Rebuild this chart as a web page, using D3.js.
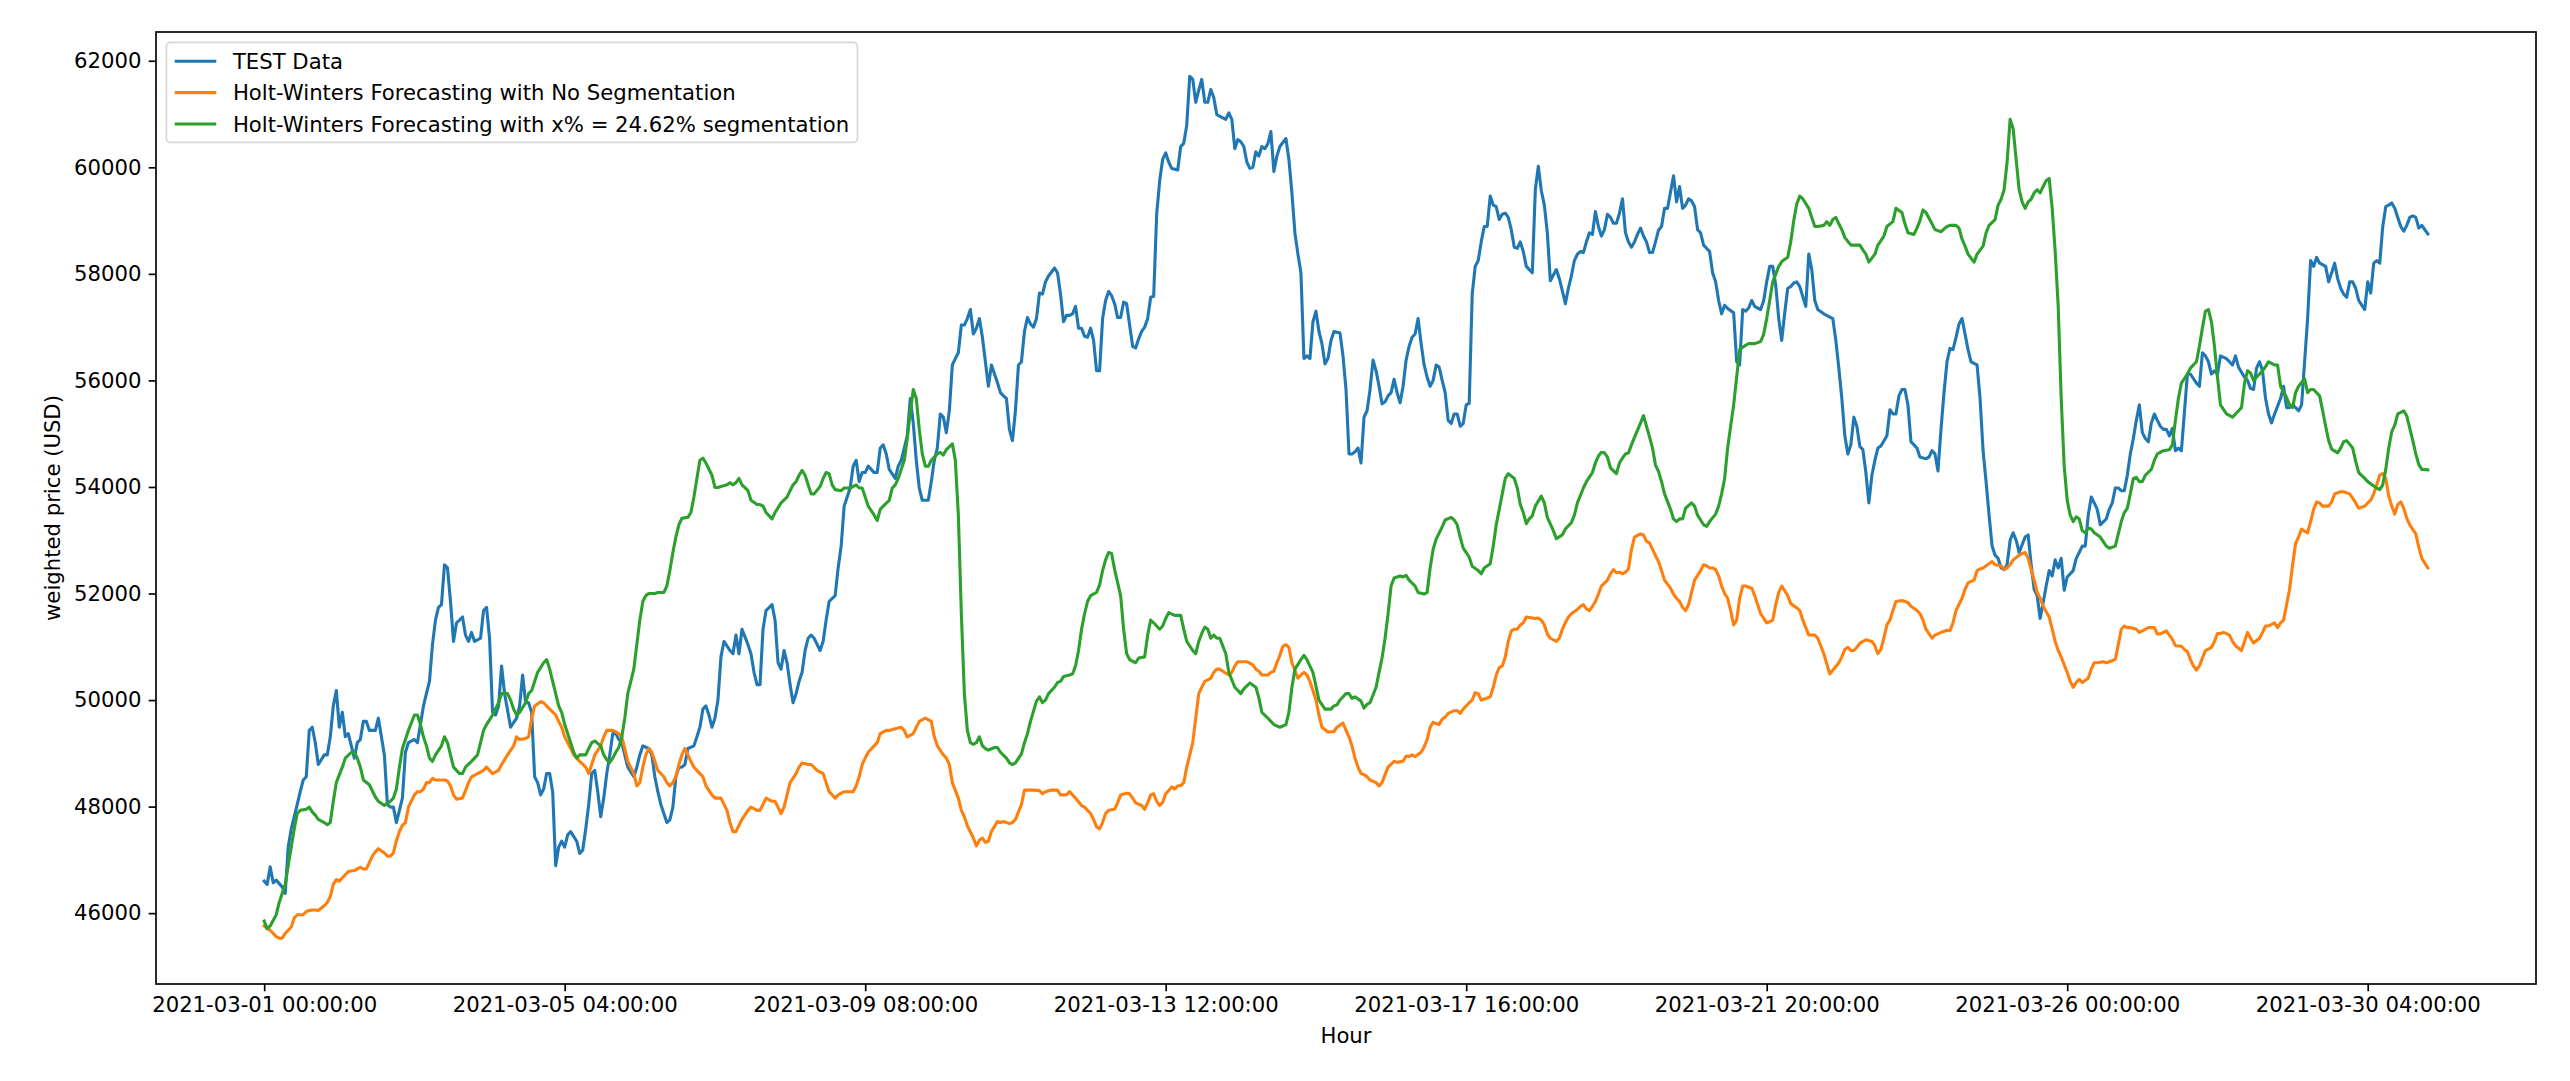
<!DOCTYPE html>
<html><head><meta charset="utf-8">
<script src="https://cdn.jsdelivr.net/npm/d3@7"></script>
<style>html,body{margin:0;padding:0;background:#fff;} svg{display:block;}</style>
</head><body>
<svg id="chart" width="2570" height="1081"></svg>
<script>
const seriesNames = ["TEST Data", "Holt-Winters Forecasting with No Segmentation", "Holt-Winters Forecasting with x% = 24.62% segmentation"];
const seriesColors = ["#1f77b4", "#ff7f0e", "#2ca02c"];
const xTickHours = [0, 100, 200, 300, 400, 500, 600, 700];
const xTickLabels = ["2021-03-01 00:00:00", "2021-03-05 04:00:00", "2021-03-09 08:00:00", "2021-03-13 12:00:00", "2021-03-17 16:00:00", "2021-03-21 20:00:00", "2021-03-26 00:00:00", "2021-03-30 04:00:00"];
const yTicks = [46000, 48000, 50000, 52000, 54000, 56000, 58000, 60000, 62000];
const xLabel = "Hour";
const yLabel = "weighted price (USD)";

// [hour index, weighted price]
const testData = [[0,46600],[1,46540],[2,46870],[3,46570],[4,46620],[6,46490],[7,46370],[8,47240],[9,47580],[11,48040],[12,48280],[13,48500],[14,48560],[15,49430],[16,49490],[17,49200],[18,48790],[20,48970],[21,48970],[22,49310],[23,49890],[24,50180],[25,49490],[26,49770],[27,49310],[28,49370],[30,48910],[31,49200],[32,49260],[33,49600],[34,49600],[35,49430],[37,49430],[38,49660],[40,48970],[41,48040],[42,47990],[43,47990],[44,47700],[45,47930],[46,48160],[47,49020],[48,49200],[50,49260],[51,49200],[52,49540],[53,49890],[55,50350],[56,51040],[57,51500],[58,51740],[59,51790],[60,52540],[61,52480],[62,51850],[63,51100],[64,51450],[65,51500],[66,51560],[67,51220],[68,51100],[69,51270],[70,51100],[72,51160],[73,51680],[74,51740],[75,51160],[76,49770],[77,49720],[78,49890],[79,50640],[80,50120],[82,49490],[84,49660],[85,49890],[86,50470],[87,49950],[88,49950],[89,49770],[90,48560],[91,48450],[92,48220],[93,48330],[94,48620],[95,48620],[96,48280],[97,46890],[98,47240],[99,47350],[100,47240],[101,47470],[102,47530],[104,47350],[105,47120],[106,47180],[107,47580],[108,48040],[109,48620],[110,48680],[111,48280],[112,47810],[113,48160],[114,48620],[115,48970],[116,49370],[117,49370],[118,49260],[119,49200],[120,48970],[121,48740],[123,48560],[124,48740],[125,48970],[126,49140],[128,49090],[129,48970],[130,48560],[131,48280],[132,48040],[134,47700],[135,47750],[136,47990],[137,48560],[138,48740],[139,48740],[140,48790],[141,49090],[143,49140],[144,49310],[145,49490],[146,49830],[147,49890],[148,49720],[149,49490],[150,49660],[151,50000],[152,50810],[153,51100],[155,50930],[156,50870],[157,51220],[158,50870],[159,51330],[161,51040],[162,50870],[163,50520],[164,50290],[165,50290],[166,51330],[167,51680],[169,51790],[170,51500],[171,50700],[172,50580],[173,50930],[174,50700],[175,50290],[176,49950],[177,50120],[178,50350],[179,50520],[180,50930],[181,51160],[182,51220],[183,51160],[185,50930],[186,51100],[187,51500],[188,51850],[190,51960],[191,52480],[192,52890],[193,53640],[194,53810],[195,53980],[196,54390],[197,54500],[198,54100],[199,54270],[200,54270],[201,54390],[203,54270],[204,54270],[205,54730],[206,54790],[207,54620],[208,54330],[210,54160],[211,54390],[212,54500],[213,54730],[214,54960],[215,55660],[216,55200],[217,54500],[218,53980],[219,53750],[221,53750],[222,54100],[223,54500],[224,54730],[225,55370],[226,55310],[227,55020],[228,55430],[229,56290],[230,56410],[231,56520],[232,57040],[233,57040],[234,57160],[235,57330],[236,56870],[237,56980],[238,57160],[239,56810],[240,56350],[241,55890],[242,56290],[244,55960],[245,55770],[246,55710],[247,55660],[248,55080],[249,54870],[250,55430],[251,56290],[252,56350],[253,56920],[254,57180],[255,57060],[256,57000],[257,57160],[258,57640],[259,57620],[260,57850],[261,57960],[263,58110],[264,58020],[265,57620],[266,57100],[267,57220],[268,57220],[269,57250],[270,57390],[271,56980],[272,56980],[273,56830],[274,56810],[275,56980],[276,56750],[277,56180],[278,56180],[279,57160],[280,57500],[281,57670],[282,57590],[283,57440],[284,57180],[285,57180],[286,57470],[287,57440],[289,56640],[290,56610],[291,56780],[292,56920],[293,57000],[294,57160],[295,57560],[296,57580],[297,59120],[298,59750],[299,60150],[300,60270],[301,60100],[302,59980],[304,59950],[305,60390],[306,60450],[307,60790],[308,61710],[309,61650],[310,61220],[311,61450],[312,61650],[313,61220],[314,61220],[315,61460],[316,61310],[317,60990],[319,60930],[320,60900],[321,61020],[322,60900],[323,60350],[324,60520],[325,60480],[326,60390],[327,60100],[328,59980],[329,60000],[330,60290],[331,60210],[332,60390],[333,60350],[334,60440],[335,60670],[336,59920],[337,60210],[338,60390],[340,60540],[341,60150],[342,59520],[343,58770],[344,58370],[345,58020],[346,56410],[347,56460],[348,56410],[349,57100],[350,57300],[351,56920],[352,56690],[353,56310],[354,56410],[355,56750],[356,56920],[358,56890],[359,56460],[360,55830],[361,54620],[362,54620],[363,54660],[364,54730],[365,54450],[366,55310],[367,55430],[368,55830],[369,56380],[370,56180],[371,55890],[372,55560],[373,55600],[374,55710],[375,55770],[376,56020],[377,55770],[378,55580],[379,55890],[380,56380],[381,56640],[382,56810],[383,56870],[384,57160],[385,56690],[386,56290],[387,56060],[388,55890],[389,56000],[390,56290],[391,56250],[392,56000],[393,55770],[394,55250],[395,55190],[396,55370],[397,55370],[398,55140],[399,55190],[400,55540],[401,55570],[402,57620],[403,58140],[404,58250],[405,58600],[406,58890],[407,58890],[408,59460],[409,59290],[410,59260],[411,59020],[412,59120],[413,59140],[414,59060],[415,58830],[416,58500],[417,58480],[418,58600],[419,58420],[420,58140],[421,58080],[422,58020],[423,59580],[424,60020],[425,59560],[426,59290],[427,58770],[428,57870],[430,58080],[431,57910],[432,57680],[433,57440],[434,57730],[435,57960],[436,58250],[437,58370],[438,58420],[439,58400],[440,58600],[441,58770],[442,58740],[443,59170],[444,58890],[445,58710],[446,58830],[447,59120],[448,59060],[449,58950],[450,58950],[451,59140],[452,59410],[453,58770],[454,58600],[455,58500],[456,58600],[457,58740],[458,58860],[459,58710],[460,58600],[461,58400],[462,58400],[463,58600],[464,58820],[465,58890],[466,59230],[467,59230],[469,59840],[470,59350],[471,59640],[472,59230],[473,59290],[474,59410],[475,59370],[476,59260],[477,58830],[478,58770],[479,58540],[481,58420],[482,58020],[483,57850],[484,57500],[485,57250],[486,57410],[487,57350],[488,57310],[489,57270],[490,56350],[491,56290],[492,57330],[493,57300],[494,57360],[495,57500],[496,57390],[498,57330],[499,57500],[500,57850],[501,58140],[502,58140],[503,57790],[504,57160],[505,56750],[506,57270],[507,57730],[508,57760],[509,57830],[510,57850],[511,57760],[513,57390],[514,58370],[515,58080],[516,57500],[517,57330],[519,57250],[521,57190],[522,57160],[523,56750],[524,56230],[525,55660],[526,54960],[527,54620],[528,54790],[529,55310],[530,55140],[531,54760],[532,54700],[533,54270],[534,53700],[535,54220],[536,54500],[537,54730],[538,54770],[540,54960],[541,55450],[542,55370],[543,55370],[544,55710],[545,55830],[546,55830],[547,55540],[548,54850],[550,54730],[551,54560],[553,54530],[554,54560],[555,54680],[556,54620],[557,54300],[558,55080],[559,55770],[560,56350],[561,56600],[562,56580],[563,56810],[564,57060],[565,57160],[566,56870],[567,56580],[568,56350],[570,56290],[571,55660],[572,54680],[573,54100],[574,53470],[575,52890],[576,52720],[577,52660],[578,52480],[579,52450],[580,52540],[581,53000],[582,53140],[583,53000],[584,52770],[586,53060],[587,53100],[588,52540],[589,52080],[590,51960],[591,51530],[592,51830],[593,52140],[594,52430],[595,52330],[596,52630],[597,52480],[598,52660],[599,52060],[600,52310],[602,52430],[603,52660],[604,52770],[605,52890],[606,52890],[607,53470],[608,53810],[609,53700],[610,53580],[611,53290],[613,53400],[614,53580],[615,53700],[616,53980],[617,53980],[618,53930],[619,53930],[620,54220],[621,54620],[622,54910],[623,55250],[624,55540],[625,55020],[626,54910],[627,54850],[628,55200],[629,55370],[630,55250],[631,55140],[632,55080],[633,55080],[634,54960],[635,55100],[636,54680],[637,54730],[638,54680],[640,56120],[641,56120],[643,55950],[644,55890],[645,56520],[646,56460],[647,56350],[648,56120],[649,56180],[650,56120],[651,56460],[653,56410],[654,56350],[655,56290],[656,56460],[657,56250],[659,56060],[660,56000],[661,55850],[662,55830],[663,56230],[664,56350],[665,56180],[666,55660],[667,55370],[668,55200],[669,55370],[671,55660],[672,55890],[673,55490],[674,55490],[675,55540],[676,55490],[677,55430],[678,55540],[679,56350],[680,57160],[681,58250],[682,58140],[683,58310],[684,58200],[686,58140],[687,57850],[688,58020],[689,58200],[690,57910],[691,57730],[692,57620],[693,57560],[694,57850],[695,57850],[696,57730],[697,57500],[699,57330],[700,57850],[701,57640],[702,58200],[703,58250],[704,58200],[705,58890],[706,59260],[707,59290],[708,59330],[709,59230],[710,59060],[711,58890],[712,58800],[713,58910],[714,59060],[715,59090],[716,59060],[717,58860],[718,58910],[719,58830],[720,58750]];

const hwNoSegData = [[0,45760],[1,45710],[2,45680],[3,45620],[4,45560],[5,45530],[6,45530],[7,45620],[9,45740],[10,45910],[11,45970],[12,45970],[13,45970],[14,46030],[15,46050],[16,46060],[17,46060],[18,46050],[20,46140],[21,46200],[22,46310],[23,46540],[24,46630],[25,46600],[26,46660],[27,46720],[28,46780],[30,46800],[31,46830],[32,46860],[33,46830],[34,46830],[35,46950],[36,47070],[37,47150],[38,47210],[40,47130],[41,47070],[42,47070],[43,47130],[44,47360],[45,47530],[46,47650],[47,47700],[48,47990],[50,48220],[51,48280],[52,48280],[53,48330],[54,48450],[55,48450],[56,48530],[57,48500],[59,48500],[60,48500],[61,48480],[62,48390],[63,48220],[64,48140],[66,48160],[67,48300],[68,48450],[69,48560],[71,48620],[73,48680],[74,48740],[75,48680],[76,48620],[78,48680],[79,48790],[81,48970],[83,49140],[84,49310],[85,49260],[87,49280],[88,49310],[89,49660],[90,49890],[92,49970],[93,49950],[95,49830],[97,49720],[98,49600],[99,49490],[100,49310],[102,49090],[103,48970],[104,48910],[105,48850],[107,48740],[108,48620],[109,48790],[110,48970],[112,49140],[113,49310],[114,49430],[116,49430],[118,49370],[119,49310],[120,49090],[121,48850],[123,48620],[124,48390],[125,48450],[126,48740],[127,48970],[128,49090],[129,49020],[130,48850],[131,48680],[133,48560],[134,48450],[135,48390],[136,48450],[137,48560],[138,48790],[139,48970],[140,49090],[141,48970],[142,48850],[143,48740],[145,48620],[146,48560],[147,48390],[149,48220],[150,48160],[152,48160],[154,47930],[155,47700],[156,47530],[157,47530],[158,47650],[159,47760],[161,47930],[162,47990],[164,47930],[165,47930],[166,48040],[167,48160],[169,48100],[170,48100],[171,47990],[172,47870],[173,47990],[174,48220],[175,48450],[177,48620],[178,48740],[179,48820],[181,48790],[182,48790],[184,48680],[186,48620],[187,48450],[188,48280],[190,48160],[191,48220],[193,48280],[195,48280],[196,48280],[197,48390],[198,48560],[199,48790],[200,48910],[201,49020],[203,49140],[204,49200],[205,49370],[207,49430],[208,49430],[210,49460],[212,49490],[213,49430],[214,49310],[216,49370],[217,49490],[218,49600],[220,49660],[222,49600],[223,49310],[224,49140],[226,48970],[227,48910],[228,48790],[229,48450],[231,48160],[232,47930],[233,47810],[234,47640],[236,47410],[237,47260],[238,47370],[239,47410],[240,47330],[241,47350],[242,47530],[244,47720],[245,47700],[246,47720],[248,47680],[249,47700],[250,47760],[252,48040],[253,48310],[254,48310],[256,48310],[258,48300],[259,48240],[260,48280],[262,48310],[264,48310],[265,48220],[267,48220],[268,48280],[270,48160],[272,48020],[273,47990],[274,47930],[275,47870],[276,47760],[277,47620],[278,47580],[279,47700],[280,47870],[281,47930],[283,47950],[284,48070],[285,48220],[287,48250],[288,48240],[289,48160],[290,48070],[292,48020],[293,47950],[294,48070],[295,48220],[296,48240],[297,48100],[298,48020],[299,48080],[300,48240],[301,48300],[302,48370],[303,48330],[304,48390],[305,48390],[306,48450],[307,48740],[309,49200],[310,49660],[311,50120],[312,50240],[313,50350],[314,50380],[315,50410],[316,50520],[317,50580],[318,50580],[319,50540],[321,50470],[322,50520],[323,50640],[324,50720],[326,50720],[327,50720],[329,50660],[330,50580],[331,50540],[332,50470],[334,50470],[335,50520],[336,50540],[337,50700],[338,50840],[339,51010],[340,51040],[341,50990],[342,50700],[344,50410],[345,50470],[346,50520],[347,50470],[348,50350],[349,50180],[350,50000],[351,49720],[352,49490],[354,49400],[356,49410],[357,49490],[359,49570],[360,49430],[361,49310],[362,49140],[363,48910],[364,48740],[365,48620],[366,48600],[367,48560],[368,48500],[370,48450],[371,48390],[372,48450],[373,48600],[374,48740],[376,48850],[377,48830],[379,48850],[380,48950],[381,48940],[382,48970],[383,48940],[385,49020],[386,49120],[387,49260],[388,49490],[389,49580],[391,49540],[392,49640],[393,49680],[394,49750],[396,49800],[397,49800],[398,49750],[399,49830],[401,49950],[402,50000],[403,50140],[404,50120],[405,50000],[407,50040],[408,50060],[409,50240],[410,50470],[411,50610],[412,50640],[413,50810],[414,51100],[415,51300],[416,51330],[417,51330],[418,51410],[419,51450],[420,51560],[422,51540],[423,51530],[424,51540],[425,51500],[426,51410],[427,51240],[428,51160],[430,51100],[431,51160],[432,51330],[433,51450],[434,51560],[435,51620],[437,51700],[438,51760],[439,51790],[440,51710],[441,51680],[442,51760],[443,51850],[444,51990],[445,52140],[447,52250],[448,52370],[449,52450],[450,52390],[451,52400],[452,52370],[453,52400],[454,52460],[455,52830],[456,53060],[458,53120],[459,53100],[460,52980],[461,52950],[462,52830],[463,52710],[464,52600],[465,52430],[466,52250],[468,52100],[469,51990],[470,51910],[471,51850],[472,51740],[473,51680],[474,51790],[475,52020],[476,52250],[478,52430],[479,52540],[480,52520],[481,52480],[482,52480],[483,52450],[484,52330],[485,52140],[486,52000],[487,51910],[488,51680],[489,51410],[490,51500],[491,51910],[492,52140],[493,52140],[495,52100],[496,51960],[497,51790],[498,51620],[500,51450],[501,51470],[502,51500],[503,51790],[504,52020],[505,52140],[507,51960],[508,51810],[510,51730],[511,51680],[512,51500],[513,51360],[514,51220],[516,51220],[517,51160],[518,51020],[519,50870],[520,50680],[521,50490],[522,50560],[524,50700],[525,50810],[526,50950],[527,50990],[528,50930],[529,50930],[530,50990],[531,51070],[532,51100],[533,51130],[535,51100],[536,51020],[537,50870],[538,50950],[539,51160],[540,51410],[541,51500],[542,51680],[543,51850],[545,51870],[546,51850],[547,51830],[548,51760],[550,51680],[551,51620],[552,51500],[553,51330],[555,51160],[556,51220],[558,51270],[560,51310],[561,51300],[562,51450],[563,51680],[565,51910],[566,52080],[567,52200],[569,52250],[570,52430],[571,52460],[572,52480],[574,52560],[575,52600],[576,52540],[578,52520],[579,52450],[580,52480],[581,52540],[582,52630],[584,52720],[585,52750],[586,52770],[587,52660],[588,52450],[589,52250],[590,52020],[591,51910],[592,51760],[594,51560],[595,51330],[596,51100],[597,50930],[598,50810],[599,50660],[600,50520],[601,50350],[602,50240],[603,50330],[604,50390],[605,50330],[607,50410],[608,50580],[609,50700],[610,50700],[612,50720],[613,50700],[614,50720],[616,50760],[617,51040],[618,51330],[619,51390],[620,51360],[621,51360],[623,51330],[624,51270],[625,51300],[627,51360],[629,51360],[630,51240],[631,51240],[633,51300],[634,51220],[635,51140],[636,51020],[638,51010],[639,50950],[640,50910],[641,50760],[642,50640],[643,50560],[644,50640],[645,50790],[646,50930],[648,50990],[649,51100],[650,51250],[651,51250],[652,51270],[654,51220],[655,51100],[656,51020],[658,50930],[659,51100],[660,51270],[661,51160],[662,51070],[664,51160],[665,51270],[666,51390],[667,51390],[669,51450],[670,51360],[671,51450],[672,51500],[673,51790],[674,52080],[675,52540],[676,52940],[677,53060],[678,53210],[679,53170],[680,53140],[681,53350],[682,53580],[683,53720],[684,53700],[685,53640],[687,53640],[688,53720],[689,53870],[691,53910],[692,53910],[694,53870],[695,53790],[696,53700],[697,53600],[699,53640],[700,53700],[701,53750],[702,53870],[703,54040],[704,54220],[705,54250],[706,54160],[707,53830],[708,53640],[709,53490],[710,53670],[711,53720],[712,53600],[713,53410],[714,53290],[716,53120],[717,52870],[718,52660],[720,52480]];

const hwSegData = [[0,45850],[1,45710],[2,45760],[4,45970],[5,46200],[6,46370],[7,46540],[8,46890],[9,47240],[10,47580],[11,47870],[12,47930],[14,47950],[15,47990],[16,47900],[17,47840],[18,47760],[20,47700],[21,47660],[22,47700],[23,48100],[24,48450],[26,48740],[27,48910],[29,49020],[30,49020],[31,48910],[32,48740],[33,48500],[35,48410],[37,48180],[38,48100],[40,48020],[42,48100],[43,48160],[44,48330],[45,48740],[46,49090],[48,49430],[50,49720],[51,49720],[52,49540],[53,49310],[54,49140],[55,48910],[56,48850],[57,48970],[59,49140],[60,49310],[61,49200],[62,48970],[63,48740],[65,48620],[66,48620],[67,48740],[69,48850],[71,48970],[72,49200],[73,49430],[74,49540],[76,49720],[78,49950],[79,50120],[81,50120],[82,50000],[83,49830],[84,49720],[85,49770],[87,49950],[88,50120],[89,50180],[90,50350],[91,50520],[93,50700],[94,50760],[95,50580],[96,50350],[97,50120],[98,49890],[99,49770],[100,49540],[102,49200],[103,49020],[104,48910],[105,48970],[106,48970],[107,48970],[108,49090],[109,49200],[110,49230],[112,49140],[113,48970],[114,48880],[115,48830],[116,48910],[117,49020],[118,49110],[119,49310],[120,49660],[121,50120],[123,50580],[124,51040],[125,51500],[126,51850],[127,51960],[128,52000],[130,52000],[131,52020],[133,52020],[134,52140],[135,52430],[136,52770],[137,53060],[138,53290],[139,53410],[141,53430],[142,53520],[143,53810],[144,54160],[145,54500],[146,54540],[147,54450],[149,54220],[150,53990],[151,53990],[152,54010],[154,54040],[155,54080],[156,54040],[157,54080],[158,54160],[159,54040],[161,53930],[162,53750],[164,53670],[165,53670],[166,53640],[167,53520],[169,53400],[170,53520],[172,53700],[174,53810],[175,53930],[176,54040],[177,54100],[178,54220],[179,54310],[180,54220],[181,54040],[182,53870],[183,53870],[185,54010],[186,54160],[187,54270],[188,54250],[189,54040],[190,53950],[192,53930],[193,53980],[195,53980],[197,54040],[198,53980],[199,53980],[200,53810],[201,53640],[203,53470],[204,53370],[205,53580],[206,53640],[208,53750],[209,53980],[210,54040],[211,54160],[212,54330],[213,54500],[214,54910],[215,55400],[216,55830],[217,55660],[218,55080],[219,54620],[220,54390],[221,54390],[222,54500],[224,54620],[225,54650],[226,54600],[227,54700],[229,54810],[230,54500],[231,53470],[232,51620],[233,50120],[234,49430],[235,49200],[236,49170],[237,49200],[238,49310],[239,49140],[240,49090],[241,49060],[243,49110],[244,49110],[245,49020],[247,48910],[248,48820],[249,48790],[250,48820],[252,48990],[253,49200],[254,49370],[255,49600],[257,49980],[258,50060],[259,49950],[260,50000],[261,50120],[263,50240],[264,50330],[265,50350],[266,50440],[268,50470],[269,50490],[270,50640],[271,50930],[272,51330],[273,51620],[274,51850],[275,51960],[277,52020],[278,52160],[279,52430],[280,52630],[281,52770],[282,52750],[283,52450],[285,51960],[286,51330],[287,50870],[288,50760],[290,50700],[291,50790],[293,50810],[294,51220],[295,51500],[296,51450],[298,51330],[299,51390],[300,51530],[301,51640],[303,51590],[305,51590],[306,51330],[307,51100],[309,50930],[310,50870],[311,51100],[312,51250],[313,51370],[314,51330],[315,51160],[316,51220],[317,51160],[318,51160],[320,50870],[321,50520],[323,50240],[325,50120],[326,50210],[328,50320],[330,50240],[331,50040],[332,49770],[334,49660],[335,49600],[336,49540],[338,49490],[340,49540],[341,49770],[342,50240],[343,50580],[345,50760],[346,50840],[347,50760],[349,50520],[350,50260],[351,50000],[353,49830],[355,49830],[356,49890],[357,49910],[358,50000],[360,50120],[361,50120],[362,50030],[363,50060],[365,49980],[366,49850],[367,49920],[368,49950],[370,50240],[371,50520],[372,50790],[373,51160],[374,51620],[375,52140],[376,52290],[378,52330],[379,52310],[380,52340],[381,52250],[383,52140],[384,52020],[386,51990],[387,52020],[388,52480],[389,52830],[390,53020],[392,53250],[393,53380],[395,53430],[396,53380],[397,53290],[398,53060],[399,52850],[400,52770],[401,52680],[402,52510],[404,52430],[405,52370],[406,52480],[408,52560],[409,52890],[410,53290],[411,53580],[412,53870],[413,54160],[414,54250],[416,54160],[417,53980],[418,53670],[419,53520],[420,53310],[421,53400],[422,53460],[423,53640],[425,53830],[426,53700],[427,53430],[429,53180],[430,53030],[432,53100],[433,53210],[435,53330],[436,53470],[437,53700],[439,53980],[440,54100],[442,54270],[443,54450],[444,54580],[445,54650],[446,54640],[447,54560],[448,54360],[450,54250],[451,54450],[452,54540],[453,54620],[454,54640],[455,54790],[456,54930],[458,55200],[459,55340],[460,55140],[461,54940],[462,54730],[463,54410],[464,54290],[465,54100],[466,53870],[468,53580],[469,53400],[470,53350],[471,53400],[472,53400],[473,53600],[475,53700],[476,53640],[477,53470],[479,53290],[480,53260],[481,53350],[483,53490],[484,53640],[485,53870],[486,54160],[487,54730],[488,55140],[489,55540],[490,56060],[491,56580],[493,56660],[494,56690],[496,56690],[498,56730],[499,56870],[500,57160],[501,57500],[502,57850],[504,58140],[505,58230],[507,58310],[508,58600],[509,59000],[510,59310],[511,59460],[512,59410],[514,59230],[515,59060],[516,58890],[517,58890],[519,58910],[520,58980],[521,58910],[522,59020],[523,59060],[524,58940],[525,58830],[526,58680],[528,58540],[530,58540],[531,58540],[532,58450],[533,58370],[534,58220],[536,58370],[537,58540],[539,58710],[540,58890],[542,58980],[543,59230],[545,59150],[546,58940],[547,58770],[549,58740],[550,58860],[551,59000],[552,59200],[553,59150],[555,58940],[556,58830],[558,58790],[560,58890],[561,58910],[563,58910],[564,58860],[565,58650],[566,58520],[567,58370],[569,58220],[570,58370],[572,58520],[573,58770],[574,58910],[576,59020],[577,59290],[578,59400],[579,59580],[580,60100],[581,60900],[582,60730],[583,60150],[584,59580],[585,59350],[586,59230],[587,59350],[588,59400],[589,59520],[590,59580],[591,59520],[592,59640],[593,59750],[594,59790],[595,59230],[596,58420],[597,57390],[598,55660],[599,54390],[600,53750],[601,53470],[602,53350],[603,53440],[604,53400],[605,53180],[606,53140],[607,53230],[608,53210],[609,53140],[611,53060],[613,52890],[614,52850],[616,52890],[617,53120],[618,53350],[619,53520],[620,53600],[621,53870],[622,54160],[623,54180],[624,54100],[625,54100],[626,54220],[628,54330],[629,54500],[630,54620],[632,54680],[634,54700],[635,54790],[636,55250],[637,55660],[638,55950],[640,56120],[641,56230],[643,56350],[644,56640],[645,56990],[646,57300],[647,57330],[648,57100],[649,56640],[650,56060],[651,55540],[653,55370],[655,55310],[656,55370],[658,55490],[659,55950],[660,56180],[661,56140],[662,56000],[663,56060],[665,56180],[666,56260],[667,56350],[669,56290],[670,56290],[671,55890],[673,55680],[674,55540],[675,55490],[676,55770],[677,55890],[679,56030],[680,55770],[681,55830],[682,55830],[684,55710],[685,55430],[686,55140],[687,54870],[688,54710],[690,54640],[691,54730],[692,54850],[693,54870],[695,54730],[696,54480],[697,54270],[699,54160],[700,54100],[702,54020],[703,53980],[704,53950],[705,54040],[706,54330],[707,54730],[708,55040],[709,55160],[710,55370],[712,55430],[713,55330],[715,54870],[716,54620],[717,54420],[718,54330],[720,54320]];

const allSeries = [testData, hwNoSegData, hwSegData];

const svg = d3.select("#chart");
const W = 2570, H = 1081;
const plot = {left: 156, right: 2536, top: 32, bottom: 984};
const fs = 21.2;
const font = "'DejaVu Sans', sans-serif";

svg.append("rect").attr("width", W).attr("height", H).attr("fill", "#fff");

const x = d3.scaleLinear().domain([-36, 756]).range([plot.left, plot.right]);
const y = d3.scaleLinear().domain([44670, 62540]).range([plot.bottom, plot.top]);

svg.append("defs").append("clipPath").attr("id", "clip")
  .append("rect").attr("x", plot.left).attr("y", plot.top)
  .attr("width", plot.right - plot.left).attr("height", plot.bottom - plot.top);

const line = d3.line().x(d => x(d[0])).y(d => y(d[1]));
const lines = svg.append("g").attr("clip-path", "url(#clip)");
allSeries.forEach((s, i) => {
  lines.append("path").datum(s)
    .attr("d", line)
    .attr("fill", "none")
    .attr("stroke", seriesColors[i])
    .attr("stroke-width", 3.1)
    .attr("stroke-linejoin", "round")
    .attr("stroke-linecap", "square");
});

// axes
const xAxis = d3.axisBottom(x).tickValues(xTickHours)
  .tickFormat((d, i) => xTickLabels[i]).tickSize(7.3).tickPadding(6).tickSizeOuter(0);
const gx = svg.append("g").attr("transform", `translate(0,${plot.bottom})`).call(xAxis);
const yAxis = d3.axisLeft(y).tickValues(yTicks).tickFormat(d3.format("d"))
  .tickSize(7.3).tickPadding(7.3).tickSizeOuter(0);
const gy = svg.append("g").attr("transform", `translate(${plot.left},0)`).call(yAxis);
[gx, gy].forEach(g => {
  g.select(".domain").remove();
  g.selectAll(".tick line").attr("stroke", "#000").attr("stroke-width", 1.67);
  g.selectAll(".tick text").attr("fill", "#000").style("font-family", font).style("font-size", fs + "px");
});

// frame
svg.append("rect")
  .attr("x", plot.left).attr("y", plot.top)
  .attr("width", plot.right - plot.left).attr("height", plot.bottom - plot.top)
  .attr("fill", "none").attr("stroke", "#000").attr("stroke-width", 1.67);

// axis labels
svg.append("text").text(xLabel)
  .attr("x", (plot.left + plot.right) / 2).attr("y", 1043)
  .attr("text-anchor", "middle").style("font-family", font).style("font-size", fs + "px");
svg.append("text").text(yLabel)
  .attr("transform", `translate(60,${(plot.top + plot.bottom) / 2}) rotate(-90)`)
  .attr("text-anchor", "middle").style("font-family", font).style("font-size", fs + "px");

// legend
const lg = svg.append("g");
const lx = plot.left + 10.4, ly = plot.top + 10.4;
const box = lg.append("rect").attr("x", lx).attr("y", ly).attr("height", 100)
  .attr("rx", 4).attr("fill", "#fff").attr("fill-opacity", 0.8)
  .attr("stroke", "#d6d6d6").attr("stroke-width", 1.7);
let maxW = 0;
seriesNames.forEach((name, i) => {
  const cy = ly + 18.8 + i * 31.4;
  lg.append("line").attr("x1", lx + 8.3).attr("x2", lx + 8.3 + 41.6)
    .attr("y1", cy).attr("y2", cy)
    .attr("stroke", seriesColors[i]).attr("stroke-width", 3.1);
  const t = lg.append("text").text(name)
    .attr("x", lx + 8.3 + 41.6 + 16.6).attr("y", cy + 7.6)
    .style("font-family", font).style("font-size", fs + "px").attr("fill", "#000");
  maxW = Math.max(maxW, t.node().getComputedTextLength());
});
box.attr("width", 8.3 + 41.6 + 16.6 + maxW + 8.3);
</script>
</body></html>
